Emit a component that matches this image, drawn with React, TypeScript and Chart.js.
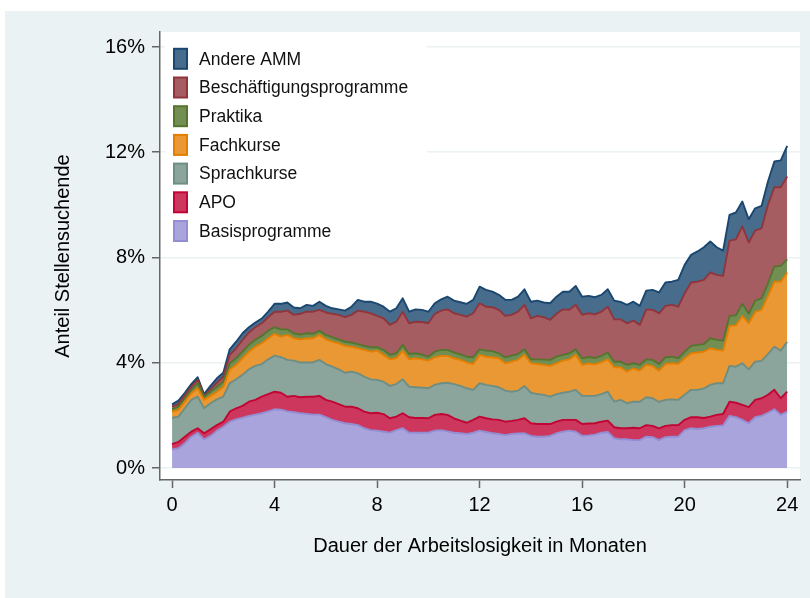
import React, { useEffect, useRef } from "react";
import { Chart, registerables } from "chart.js";

Chart.register(...registerables);

// months of unemployment (quarter-month steps)
const months: number[] = Array.from({ length: 97 }, (_, i) => i / 4);

const xTickValues = [0, 4, 8, 12, 16, 20, 24];
const yTickValues = [0, 4, 8, 12, 16];

const xTitle = "Dauer der Arbeitslosigkeit in Monaten";
const yTitle = "Anteil Stellensuchende";

// stacked from bottom to top (values in %)
const basisprogramme = [
  0.71, 0.75, 0.94, 1.19, 1.34, 1.09, 1.22, 1.42, 1.57, 1.76, 1.85, 1.91, 1.98, 2.03, 2.08, 2.15,
  2.23, 2.22, 2.15, 2.12, 2.08, 2.05, 2.03, 2.03, 1.93, 1.83, 1.76, 1.7, 1.67, 1.63, 1.51, 1.44,
  1.42, 1.38, 1.34, 1.44, 1.51, 1.34, 1.34, 1.34, 1.34, 1.42, 1.44, 1.39, 1.34, 1.32, 1.29, 1.34,
  1.42, 1.37, 1.32, 1.29, 1.25, 1.29, 1.31, 1.32, 1.22, 1.19, 1.19, 1.22, 1.32, 1.38, 1.42, 1.38,
  1.22, 1.24, 1.27, 1.34, 1.37, 1.13, 1.09, 1.09, 1.06, 1.06, 1.19, 1.17, 1.06, 1.17, 1.19, 1.19,
  1.44, 1.51, 1.48, 1.51, 1.57, 1.6, 1.62, 1.98, 1.93, 1.83, 1.7, 1.93, 1.98, 2.1, 2.23, 2.02, 2.14,
];
const apo = [
  0.2, 0.24, 0.25, 0.19, 0.17, 0.23, 0.25, 0.21, 0.19, 0.38, 0.42, 0.45, 0.54, 0.56, 0.63, 0.66,
  0.67, 0.64, 0.56, 0.62, 0.61, 0.66, 0.68, 0.71, 0.66, 0.69, 0.67, 0.63, 0.66, 0.64, 0.63, 0.64,
  0.68, 0.67, 0.55, 0.51, 0.57, 0.59, 0.56, 0.56, 0.55, 0.6, 0.61, 0.63, 0.55, 0.48, 0.43, 0.49,
  0.53, 0.52, 0.53, 0.54, 0.51, 0.5, 0.52, 0.57, 0.48, 0.48, 0.48, 0.45, 0.44, 0.45, 0.41, 0.45,
  0.45, 0.45, 0.43, 0.42, 0.43, 0.42, 0.42, 0.42, 0.47, 0.45, 0.44, 0.43, 0.45, 0.43, 0.44, 0.44,
  0.39, 0.42, 0.45, 0.39, 0.38, 0.42, 0.43, 0.54, 0.55, 0.57, 0.61, 0.66, 0.67, 0.68, 0.74, 0.63, 0.76,
];
const sprachkurse = [
  1.0, 0.96, 1.08, 1.21, 1.2, 0.95, 0.99, 0.98, 0.95, 1.08, 1.1, 1.18, 1.23, 1.29, 1.24, 1.32,
  1.37, 1.35, 1.4, 1.34, 1.32, 1.3, 1.3, 1.37, 1.36, 1.33, 1.32, 1.29, 1.33, 1.33, 1.33, 1.29,
  1.25, 1.23, 1.23, 1.24, 1.29, 1.16, 1.17, 1.15, 1.14, 1.14, 1.17, 1.22, 1.3, 1.32, 1.31, 1.14,
  1.27, 1.27, 1.27, 1.24, 1.18, 1.11, 1.11, 1.23, 1.16, 1.14, 1.11, 1.04, 1.05, 1.03, 1.07, 1.14,
  1.07, 1.05, 1.04, 1.05, 1.1, 0.97, 1.08, 0.95, 0.99, 1.01, 1.06, 1.05, 1.0, 0.99, 0.98, 0.96,
  0.95, 1.04, 1.04, 1.12, 1.21, 1.2, 1.17, 1.36, 1.37, 1.58, 1.44, 1.45, 1.42, 1.55, 1.64, 1.81, 1.9,
];
const fachkurse = [
  0.23, 0.26, 0.25, 0.25, 0.32, 0.32, 0.28, 0.29, 0.38, 0.51, 0.55, 0.63, 0.67, 0.73, 0.79, 0.8,
  0.83, 0.78, 0.95, 0.85, 0.88, 0.91, 0.92, 0.95, 0.94, 0.95, 0.99, 1.02, 0.95, 0.95, 1.02, 1.05,
  1.11, 1.02, 1.01, 0.99, 1.09, 1.04, 1.1, 1.08, 1.05, 1.05, 1.04, 1.02, 0.98, 0.99, 0.98, 0.98,
  1.08, 1.07, 1.09, 1.1, 1.04, 1.14, 1.17, 1.18, 1.12, 1.14, 1.14, 1.17, 1.17, 1.22, 1.23, 1.33,
  1.18, 1.23, 1.2, 1.21, 1.23, 1.31, 1.24, 1.2, 1.27, 1.18, 1.23, 1.23, 1.19, 1.36, 1.37, 1.36,
  1.39, 1.39, 1.42, 1.4, 1.39, 1.27, 1.24, 1.52, 1.57, 1.8, 1.75, 1.89, 1.94, 2.21, 2.47, 2.62, 2.63,
];
const praktika = [
  0.09, 0.12, 0.12, 0.13, 0.19, 0.12, 0.16, 0.19, 0.19, 0.25, 0.25, 0.25, 0.26, 0.26, 0.28, 0.29,
  0.25, 0.28, 0.21, 0.19, 0.18, 0.2, 0.17, 0.16, 0.17, 0.17, 0.15, 0.16, 0.16, 0.16, 0.15, 0.17,
  0.13, 0.19, 0.17, 0.18, 0.22, 0.2, 0.19, 0.18, 0.15, 0.21, 0.23, 0.23, 0.22, 0.21, 0.22, 0.26,
  0.21, 0.23, 0.23, 0.19, 0.23, 0.23, 0.22, 0.21, 0.15, 0.18, 0.2, 0.23, 0.25, 0.22, 0.23, 0.21,
  0.25, 0.25, 0.24, 0.24, 0.26, 0.21, 0.21, 0.26, 0.19, 0.22, 0.21, 0.23, 0.25, 0.26, 0.25, 0.22,
  0.25, 0.28, 0.29, 0.29, 0.38, 0.38, 0.38, 0.38, 0.38, 0.46, 0.36, 0.43, 0.44, 0.48, 0.58, 0.6, 0.5,
];
const beschaeftigungsprogramme = [
  0.1, 0.1, 0.12, 0.12, 0.13, 0.03, 0.09, 0.15, 0.19, 0.32, 0.38, 0.45, 0.47, 0.48, 0.48, 0.51,
  0.59, 0.67, 0.71, 0.7, 0.79, 0.82, 0.84, 0.79, 0.85, 0.89, 0.93, 0.93, 1.05, 1.27, 1.3, 1.29,
  1.19, 1.2, 1.14, 1.2, 1.26, 1.17, 1.2, 1.24, 1.27, 1.44, 1.49, 1.54, 1.49, 1.5, 1.52, 1.67,
  1.75, 1.67, 1.67, 1.65, 1.57, 1.55, 1.61, 1.69, 1.56, 1.65, 1.61, 1.52, 1.63, 1.73, 1.65, 1.69,
  1.65, 1.66, 1.66, 1.68, 1.74, 1.61, 1.61, 1.58, 1.62, 1.52, 1.9, 1.9, 1.93, 1.95, 1.97, 1.96,
  2.22, 2.41, 2.4, 2.44, 2.5, 2.47, 2.46, 2.86, 2.89, 2.94, 2.71, 2.66, 2.66, 2.98, 3.01, 2.99, 3.15,
];
const andereAMM = [
  0.09, 0.13, 0.1, 0.1, 0.1, 0.07, 0.13, 0.17, 0.15, 0.21, 0.25, 0.25, 0.2, 0.18, 0.18, 0.21,
  0.3, 0.3, 0.31, 0.28, 0.21, 0.26, 0.22, 0.31, 0.25, 0.21, 0.21, 0.25, 0.31, 0.41, 0.38, 0.44,
  0.47, 0.44, 0.5, 0.51, 0.51, 0.44, 0.47, 0.46, 0.44, 0.4, 0.43, 0.48, 0.48, 0.48, 0.49, 0.51,
  0.63, 0.64, 0.59, 0.57, 0.61, 0.57, 0.57, 0.59, 0.63, 0.58, 0.56, 0.63, 0.65, 0.67, 0.69, 0.72,
  0.69, 0.66, 0.65, 0.64, 0.66, 0.71, 0.66, 0.7, 0.72, 0.72, 0.71, 0.76, 0.79, 0.89, 0.88, 1.02,
  1.08, 1.05, 1.15, 1.24, 1.18, 1.05, 0.96, 0.98, 1.02, 0.95, 0.88, 0.85, 0.85, 0.89, 0.98, 1.02, 1.16,
];

const seriesLabels = [
  "Basisprogramme",
  "APO",
  "Sprachkurse",
  "Fachkurse",
  "Praktika",
  "Beschäftigungsprogramme",
  "Andere AMM",
];
const seriesData = [basisprogramme, apo, sprachkurse, fachkurse, praktika, beschaeftigungsprogramme, andereAMM];

const fillColors = [
  "rgb(169,164,219)",
  "rgb(205,55,93)",
  "rgb(139,165,157)",
  "rgb(233,152,51)",
  "rgb(114,142,82)",
  "rgb(166,93,98)",
  "rgb(72,108,140)",
];
const lineColors = [
  "rgb(147,141,210)",
  "rgb(193,5,52)",
  "rgb(110,142,132)",
  "rgb(227,126,0)",
  "rgb(85,117,47)",
  "rgb(144,53,59)",
  "rgb(26,71,111)",
];

const FONT = "'Liberation Sans', Arial, Helvetica, sans-serif";
const PANEL = "#eaf2f3";
const AXIS = "#666666";

const backgroundPlugin = {
  id: "stataBackground",
  beforeDraw(chart: any) {
    const { ctx, chartArea, width, height } = chart;
    ctx.save();
    ctx.fillStyle = "#ffffff";
    ctx.fillRect(0, 0, width, height);
    ctx.fillStyle = PANEL;
    ctx.fillRect(5, 11, width - 5, height - 11);
    ctx.fillStyle = "#ffffff";
    ctx.fillRect(chartArea.left, chartArea.top, chartArea.right - chartArea.left, chartArea.bottom - chartArea.top);
    ctx.restore();
  },
};

const legendPlugin = {
  id: "insideLegend",
  afterDraw(chart: any) {
    const { ctx, chartArea } = chart;
    const left = chartArea.left + 5;
    const top = chartArea.top + 4;
    ctx.save();
    ctx.fillStyle = "#ffffff";
    ctx.fillRect(left, top, 262, 214);
    const ds = chart.data.datasets;
    const n = ds.length;
    ctx.font = `17.5px ${FONT}`;
    ctx.textBaseline = "middle";
    ctx.textAlign = "left";
    for (let j = 0; j < n; j++) {
      const d = ds[n - 1 - j];
      const cy = top + 22.8 + j * 28.7;
      ctx.fillStyle = d.backgroundColor;
      ctx.fillRect(left + 9, cy - 10, 13, 20);
      ctx.strokeStyle = d.borderColor;
      ctx.lineWidth = 2;
      ctx.strokeRect(left + 9, cy - 10, 13, 20);
      ctx.fillStyle = "#111111";
      ctx.fillText(d.label, left + 34, cy + 1);
    }
    ctx.restore();
  },
};

export default function App() {
  const canvasRef = useRef<HTMLCanvasElement | null>(null);

  useEffect(() => {
    const canvas = canvasRef.current;
    if (!canvas) return;
    Chart.defaults.font.family = FONT;
    const chart = new Chart(canvas, {
      type: "line",
      data: {
        datasets: seriesLabels.map((label, k) => ({
          label,
          data: months.map((m, i) => ({ x: m, y: seriesData[k][i] })),
          backgroundColor: fillColors[k],
          borderColor: lineColors[k],
          borderWidth: 1.9,
          borderJoinStyle: "round",
          pointRadius: 0,
          pointHoverRadius: 0,
          tension: 0,
          fill: k === 0 ? "origin" : "-1",
        })),
      },
      options: {
        responsive: false,
        animation: false,
        devicePixelRatio: 1,
        layout: { padding: { top: 32, right: 10, bottom: 0, left: 0 } },
        plugins: {
          legend: { display: false },
          tooltip: { enabled: false },
        },
        scales: {
          x: {
            type: "linear",
            min: -0.47,
            max: 24.5,
            afterBuildTicks: (s: any) => {
              s.ticks = xTickValues.map((v) => ({ value: v }));
            },
            afterFit: (s: any) => {
              s.height = 118;
            },
            grid: { drawOnChartArea: false, tickLength: 8, tickColor: AXIS, tickWidth: 1.5 },
            border: { display: true, color: AXIS, width: 1.5 },
            ticks: {
              padding: 5,
              color: "#000000",
              font: { family: FONT, size: 20 },
              maxRotation: 0,
              autoSkip: false,
            },
            title: {
              display: true,
              text: xTitle,
              color: "#000000",
              font: { family: FONT, size: 20 },
              padding: { top: 0, bottom: 40 },
            },
          },
          y: {
            type: "linear",
            stacked: true,
            min: -0.456,
            max: 16.57,
            afterBuildTicks: (s: any) => {
              s.ticks = yTickValues.map((v) => ({ value: v }));
            },
            afterFit: (s: any) => {
              s.width = 160;
            },
            grid: { color: PANEL, lineWidth: 1.5, tickLength: 8, tickColor: AXIS, tickWidth: 1.5 },
            border: { display: true, color: AXIS, width: 1.5 },
            ticks: {
              padding: 7,
              color: "#000000",
              font: { family: FONT, size: 20 },
              callback: (v: any) => `${v}%`,
            },
            title: {
              display: true,
              text: yTitle,
              color: "#000000",
              font: { family: FONT, size: 20 },
              padding: { top: 51, bottom: 0 },
            },
          },
        },
      },
      plugins: [backgroundPlugin, legendPlugin],
    } as any);
    return () => chart.destroy();
  }, []);

  return (
    <div style={{ position: "fixed", left: 0, top: 0, width: 810, height: 598 }}>
      <canvas ref={canvasRef} width={810} height={598} style={{ display: "block" }} />
    </div>
  );
}
